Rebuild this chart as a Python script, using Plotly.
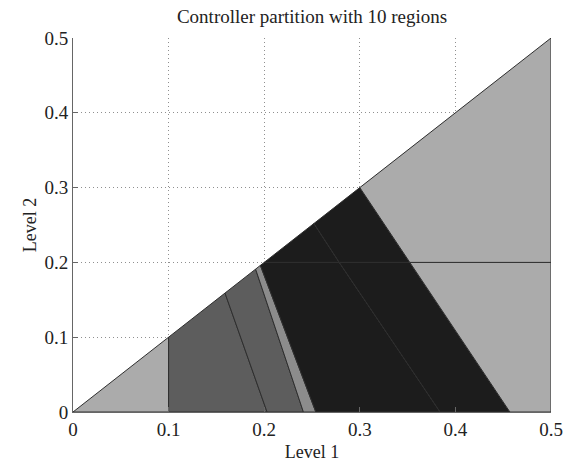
import plotly.graph_objects as go

# Region vertices (Level 1, Level 2)
region_x = [
    [0.0, 0.1, 0.1],
    [0.1, 0.203, 0.159, 0.1],
    [0.203, 0.241, 0.191, 0.159],
    [0.241, 0.254, 0.196, 0.191],
    [0.254, 0.384, 0.2785, 0.2, 0.196],
    [0.2, 0.2785, 0.252],
    [0.384, 0.457, 0.3523, 0.2785],
    [0.2785, 0.3523, 0.3, 0.252],
    [0.457, 0.5, 0.5, 0.3523],
    [0.3523, 0.5, 0.5, 0.3],
]
region_y = [
    [0.0, 0.0, 0.1],
    [0.0, 0.0, 0.159, 0.1],
    [0.0, 0.0, 0.191, 0.159],
    [0.0, 0.0, 0.196, 0.191],
    [0.0, 0.0, 0.2, 0.2, 0.196],
    [0.2, 0.2, 0.252],
    [0.0, 0.0, 0.2, 0.2],
    [0.2, 0.2, 0.3, 0.252],
    [0.0, 0.0, 0.2, 0.2],
    [0.2, 0.2, 0.5, 0.3],
]
region_color = ["#ababab", "#5d5d5d", "#5d5d5d", "#8c8c8c", "#1c1c1c",
                "#1c1c1c", "#1c1c1c", "#1c1c1c", "#ababab", "#ababab"]

tick_vals = [0, 0.1, 0.2, 0.3, 0.4, 0.5]
tick_text = ["0", "0.1", "0.2", "0.3", "0.4", "0.5"]

fig = go.Figure()
for xs, ys, c in zip(region_x, region_y, region_color):
    fig.add_trace(go.Scatter(
        x=xs + [xs[0]], y=ys + [ys[0]], mode="lines", fill="toself",
        fillcolor=c, line=dict(color="#2e2e2e", width=1),
        hoverinfo="skip", showlegend=False))

font = "Liberation Serif, Times New Roman, serif"
axis_common = dict(
    range=[0, 0.5], tickvals=tick_vals, ticktext=tick_text,
    showgrid=True, gridcolor="#8f8f8f", griddash="1px,3px", gridwidth=1,
    zeroline=False, showline=True, linecolor="#666666", linewidth=1,
    ticks="inside", ticklen=5, tickcolor="#666666",
    tickfont=dict(family=font, size=19, color="#222222"),
    fixedrange=True, automargin=False,
)

fig.update_layout(
    width=566, height=462,
    margin=dict(l=73, r=15, t=38, b=50),
    paper_bgcolor="white", plot_bgcolor="white",
    xaxis=dict(**axis_common,
               title=dict(text="Level 1", standoff=9,
                          font=dict(family=font, size=18, color="#222222"))),
    yaxis=dict(**axis_common,
               title=dict(text="Level 2", standoff=3,
                          font=dict(family=font, size=18, color="#222222"))),
    title=dict(text="Controller partition with 10 regions",
               x=0.5513, xref="container", xanchor="center",
               y=0.9654, yref="container", yanchor="middle",
               font=dict(family=font, size=19, color="#222222")),
)

fig.write_html("out.html")
